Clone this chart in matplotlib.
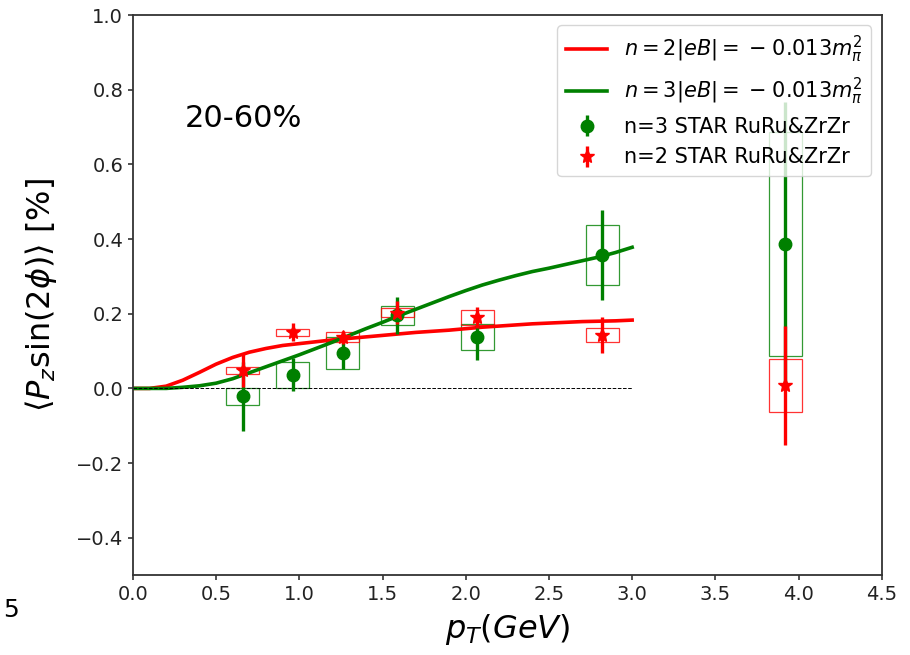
import numpy as np
import matplotlib
matplotlib.use('Agg')
import matplotlib.pyplot as plt
from matplotlib.patches import Rectangle

plt.rcParams['font.family'] = ['DejaVu Sans']
plt.rcParams['mathtext.fontset'] = 'dejavusans'

# 理论曲线 (n=2 / n=3, |eB| = -0.013 m_pi^2)
pt_curve = [0.0, 0.1, 0.2, 0.3, 0.4, 0.5, 0.6, 0.7, 0.8, 0.9, 1.0,
            1.1, 1.2, 1.3, 1.4, 1.5, 1.6, 1.7, 1.8, 1.9, 2.0,
            2.1, 2.2, 2.3, 2.4, 2.5, 2.6, 2.7, 2.8, 2.9, 3.0]
curve_n2 = [0.0, 0.0, 0.006, 0.022, 0.043, 0.065, 0.083, 0.097, 0.107, 0.115, 0.120,
            0.125, 0.130, 0.134, 0.138, 0.142, 0.146, 0.150, 0.153, 0.156, 0.160,
            0.164, 0.167, 0.170, 0.173, 0.175, 0.177, 0.179, 0.180, 0.181, 0.183]
curve_n3 = [0.0, 0.0, 0.0, 0.003, 0.007, 0.014, 0.026, 0.042, 0.058, 0.074, 0.090,
            0.107, 0.124, 0.142, 0.160, 0.177, 0.195, 0.212, 0.229, 0.246, 0.262,
            0.277, 0.290, 0.302, 0.313, 0.322, 0.332, 0.342, 0.352, 0.364, 0.378]

# STAR 数据点 (RuRu & ZrZr, 20-60%)
pt_n3 = [0.66, 0.96, 1.26, 1.59, 2.07, 2.82, 3.92]
val_n3 = [-0.021, 0.037, 0.095, 0.196, 0.137, 0.357, 0.386]
stat_n3 = [0.092, 0.045, 0.043, 0.050, 0.060, 0.121, 0.380]
sys_n3 = [0.023, 0.035, 0.042, 0.025, 0.035, 0.080, 0.300]

pt_n2 = [0.66, 0.96, 1.26, 1.59, 2.07, 2.82, 3.92]
val_n2 = [0.048, 0.150, 0.137, 0.203, 0.190, 0.142, 0.008]
stat_n2 = [0.045, 0.024, 0.018, 0.030, 0.027, 0.048, 0.160]
sys_n2 = [0.010, 0.010, 0.013, 0.012, 0.020, 0.019, 0.072]

BOX_W = 0.2


def draw_sys_boxes(ax, xs, ys, sys, color):
    """系统误差框"""
    for x, y, s in zip(xs, ys, sys):
        ax.add_patch(Rectangle((x - BOX_W / 2, y - s), BOX_W, 2 * s,
                               fill=False, edgecolor=color, linewidth=0.9, alpha=0.8))


fig = plt.figure(figsize=(9.10, 6.55), dpi=100)
ax = fig.add_axes([0.146, 0.122, 0.823, 0.855])

ax.plot(pt_curve, curve_n2, color='red', linewidth=2.6,
        label=r'$n=2|eB|=\;{-}\;0.013m_\pi^2$')
ax.plot(pt_curve, curve_n3, color='green', linewidth=2.6,
        label=r'$n=3|eB|=\;{-}\;0.013m_\pi^2$')
ax.hlines(0, pt_curve[0], pt_curve[-1], colors='black', linestyles='--', linewidth=0.7)

draw_sys_boxes(ax, pt_n3, val_n3, sys_n3, 'green')
draw_sys_boxes(ax, pt_n2, val_n2, sys_n2, 'red')

ax.errorbar(pt_n3, val_n3, yerr=stat_n3, fmt='o', color='green', markersize=9,
            elinewidth=2.4, capsize=0, label='n=3 STAR RuRu&ZrZr')
ax.errorbar(pt_n2, val_n2, yerr=stat_n2, fmt='*', color='red', markersize=10,
            elinewidth=2.4, capsize=0, label='n=2 STAR RuRu&ZrZr')

ax.text(0.31, 0.70, '20-60%', fontsize=22)

ax.set_xlim(0, 4.5)
ax.set_ylim(-0.5, 1.0)
ax.set_xticks(np.arange(0, 4.51, 0.5))
ax.set_yticks(np.arange(-0.4, 1.01, 0.2))
ax.tick_params(labelsize=14, colors='#222222', width=1.1)
for sp in ax.spines.values():
    sp.set_color('#333333')
    sp.set_linewidth(1.3)

ax.set_xlabel(r'$p_T(GeV)$', fontsize=23, labelpad=6)
ax.set_ylabel(r'$\langle P_z \sin(2\phi)\rangle$ [%]', fontsize=23, labelpad=12)

ax.legend(loc='upper right', fontsize=15)

fig.text(0.003, 0.058, '5', fontsize=18)

fig.savefig('out.png', dpi=100)
plt.close(fig)
